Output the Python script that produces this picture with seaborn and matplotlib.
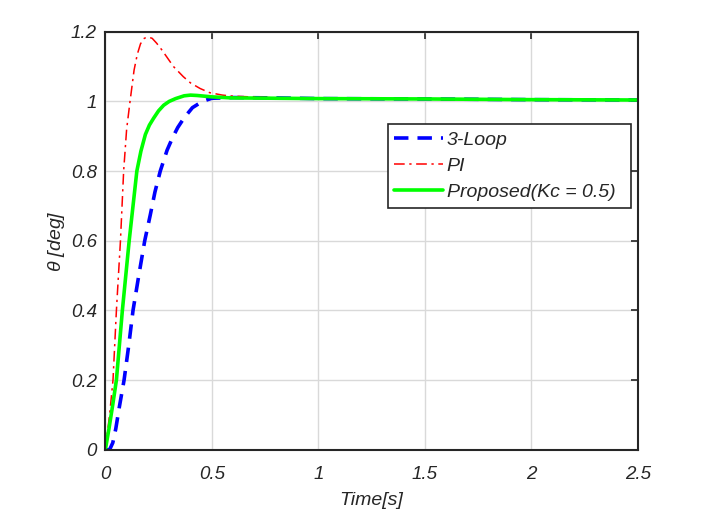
import pandas as pd
import matplotlib
matplotlib.use('Agg')
import matplotlib.pyplot as plt
import seaborn as sns
from matplotlib.ticker import FuncFormatter

# step responses
t_loop3 = [0, 0.02, 0.035, 0.049, 0.065, 0.088, 0.11, 0.13, 0.157, 0.185, 0.211, 0.233,
           0.258, 0.29, 0.315, 0.34, 0.369, 0.409, 0.456, 0.5, 0.6, 0.8, 1.0, 1.5, 2.0, 2.5]
y_loop3 = [0, 0, 0.02, 0.06, 0.12, 0.20, 0.30, 0.40, 0.50, 0.60, 0.674, 0.74,
           0.80, 0.86, 0.895, 0.925, 0.952, 0.982, 1.0, 1.009, 1.011, 1.01, 1.008, 1.007,
           1.005, 1.004]

t_pi = [0, 0.02, 0.036, 0.052, 0.071, 0.086, 0.10, 0.116, 0.135, 0.15, 0.165, 0.18,
        0.193, 0.205, 0.22, 0.241, 0.265, 0.288, 0.32, 0.366, 0.40, 0.445, 0.49, 0.55,
        0.6, 0.8, 1.0, 1.5, 2.0, 2.5]
y_pi = [0, 0.10, 0.20, 0.40, 0.60, 0.80, 0.92, 1.0, 1.09, 1.135, 1.165, 1.18,
        1.184, 1.184, 1.181, 1.167, 1.148, 1.128, 1.10, 1.071, 1.053, 1.037, 1.025, 1.018,
        1.015, 1.01, 1.008, 1.007, 1.005, 1.004]

t_prop = [0, 0.017, 0.035, 0.052, 0.066, 0.08, 0.096, 0.112, 0.13, 0.148, 0.167, 0.188,
          0.207, 0.227, 0.25, 0.274, 0.30, 0.33, 0.37, 0.40, 0.43, 0.5, 0.59, 0.8, 1.0,
          1.5, 2.0, 2.5]
y_prop = [0, 0.06, 0.13, 0.20, 0.30, 0.40, 0.50, 0.60, 0.70, 0.80, 0.857, 0.905,
          0.932, 0.952, 0.973, 0.989, 1.0, 1.008, 1.016, 1.018, 1.017, 1.013, 1.01, 1.009,
          1.008, 1.007, 1.005, 1.004]

x_ticks = [0, 0.5, 1, 1.5, 2, 2.5]
y_ticks = [0, 0.2, 0.4, 0.6, 0.8, 1, 1.2]

sns.set_style('white')
plt.rcParams['font.family'] = ['Liberation Sans', 'DejaVu Sans']
plt.rcParams['font.style'] = 'italic'
plt.rcParams['mathtext.fontset'] = 'custom'
plt.rcParams['mathtext.it'] = 'Liberation Sans:italic'

ink = '#262626'
fig = plt.figure(figsize=(7.19, 5.26), dpi=100)
ax = fig.add_axes([0.1465, 0.145, 0.7405, 0.7947])

sns.lineplot(x=t_loop3, y=y_loop3, ax=ax, color=(0, 0, 1), lw=2.6,
             linestyle=(0, (4, 2.5)), label='3-Loop')
sns.lineplot(x=t_pi, y=y_pi, ax=ax, color=(1, 0, 0), lw=1.1,
             linestyle=(0, (7, 3, 1.5, 3)), label='PI')
sns.lineplot(x=t_prop, y=y_prop, ax=ax, color=(0, 1, 0), lw=2.6,
             linestyle='-', label='Proposed(Kc = 0.5)')

ax.set_xlim(0, 2.5)
ax.set_ylim(0, 1.2)
ax.set_xticks(x_ticks)
ax.set_yticks(y_ticks)
ax.xaxis.set_major_formatter(FuncFormatter(lambda v, p: '%g' % v))
ax.yaxis.set_major_formatter(FuncFormatter(lambda v, p: '%g' % v))
ax.grid(True, color='#d9d9d9', lw=1)
ax.set_axisbelow(True)
ax.tick_params(direction='in', length=5, width=1.2, top=True, right=True,
               labelsize=13.5, colors=ink)
ax.tick_params(axis='x', pad=12)
ax.tick_params(axis='y', pad=6)
for s in ax.spines.values():
    s.set_color(ink)
    s.set_linewidth(1.5)

ax.set_xlabel('Time[s]', fontsize=14, color=ink, labelpad=6)
ax.set_ylabel(r'$\theta$ [deg]', fontsize=14, color=ink, labelpad=3)

leg = ax.legend(loc='upper left', bbox_to_anchor=(0.530, 0.581, 0.457, 0.198),
                mode='expand', fontsize=14, frameon=True, fancybox=False,
                framealpha=1, borderpad=0.35, handlelength=2.5,
                handletextpad=0.2, labelspacing=0.45, borderaxespad=0)
leg.get_frame().set_edgecolor(ink)
leg.get_frame().set_linewidth(1.2)

fig.savefig('out.png', dpi=100, facecolor='white')
